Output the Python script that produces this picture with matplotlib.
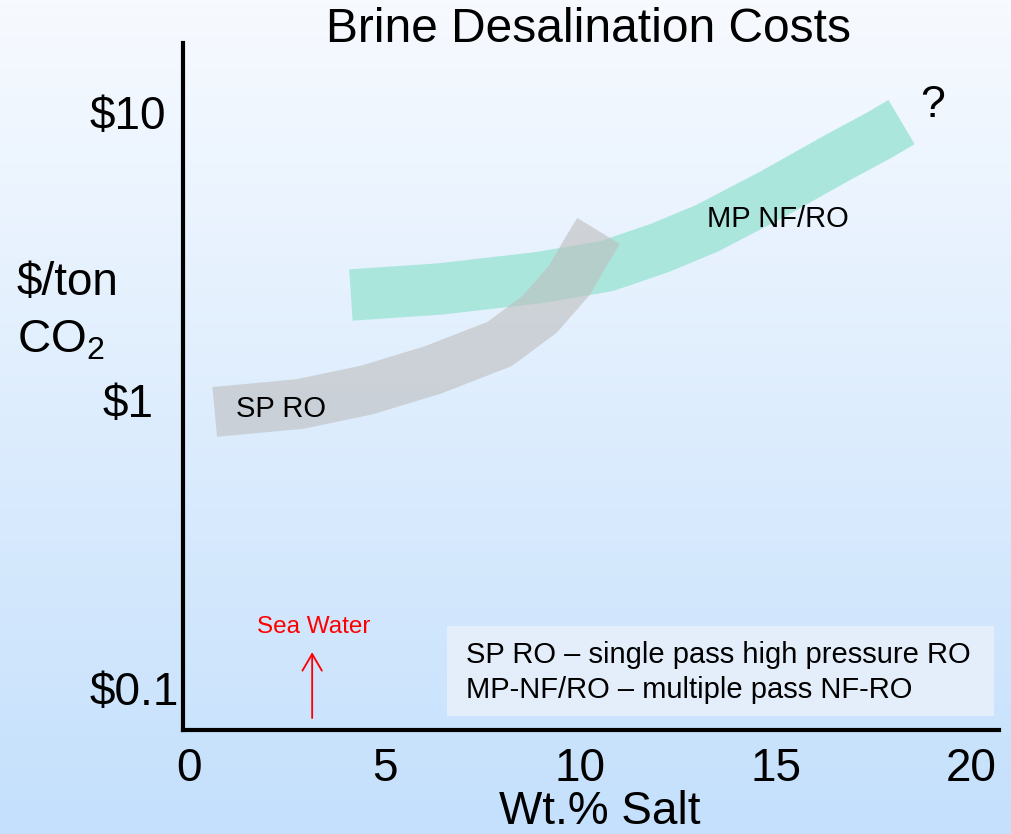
import numpy as np
import matplotlib
matplotlib.use("Agg")
import matplotlib.pyplot as plt
from matplotlib.patches import Rectangle

plt.rcParams["font.family"] = ["Liberation Sans", "DejaVu Sans"]
plt.rcParams["mathtext.fontset"] = "custom"
plt.rcParams["mathtext.rm"] = "Liberation Sans"

# cost bands, wt.% salt vs $/ton CO2
sp_salt = [0.66, 2.84, 4.55, 6.23, 7.94, 8.97, 9.73, 10.14, 10.47]
sp_cost = [0.946, 1.008, 1.127, 1.322, 1.627, 2.067, 2.713, 3.39, 4.01]
mp_salt = [4.14, 6.41, 8.97, 10.68, 12.03, 13.23, 14.92, 16.63, 17.65, 18.21]
mp_cost = [2.406, 2.524, 2.767, 3.032, 3.501, 4.091, 5.388, 7.271, 8.628, 9.57]

x_ticks = [0, 5, 10, 15, 20]
y_ticks = [10, 1, 0.1]
y_tick_labels = ["$10", "$1", "$0.1"]
sea_water_salt = 3.15

TEAL = "#a8e6dc"
GRAY = "#bebebe"

W, H = 1011, 834
fig = plt.figure(figsize=(W / 100, H / 100), dpi=100)

# background gradient
bg = fig.add_axes([0, 0, 1, 1], zorder=-1)
top = np.array([247, 250, 255]) / 255
bot = np.array([196, 224, 252]) / 255
t = np.linspace(0, 1, 256)[:, None]
grad = top[None, :] * (1 - t) + bot[None, :] * t
bg.imshow(grad[:, None, :], aspect="auto", extent=[0, 1, 0, 1])
bg.axis("off")

ax = fig.add_axes([183 / W, (H - 730) / H, (999 - 183) / W, (730 - 43) / H])
ax.set_facecolor("none")
ax.set_yscale("log")
ax.set_xlim(-0.15, 20.7)
ax.set_ylim(0.0747, 17.98)

ax.plot(mp_salt, mp_cost, color=TEAL, lw=37, solid_capstyle="butt",
        solid_joinstyle="round", alpha=0.95, zorder=2)
ax.plot(sp_salt, sp_cost, color=GRAY, lw=36, solid_capstyle="butt",
        solid_joinstyle="round", alpha=0.6, zorder=3)

ax.text(1.2, 0.97, "SP RO", ha="left", va="center", fontsize=21, zorder=4)
ax.text(13.23, 4.4, "MP NF/RO", ha="left", va="center", fontsize=21, zorder=4)
ax.text(19.0, 10.96, "?", ha="center", va="center", fontsize=32)

for s in ["top", "right"]:
    ax.spines[s].set_visible(False)
for s in ["left", "bottom"]:
    ax.spines[s].set_linewidth(3)
    ax.spines[s].set_color("black")

ax.set_xticks(x_ticks)
ax.set_xticklabels([str(v) for v in x_ticks])
ax.tick_params(axis="x", length=0, labelsize=33, pad=12)
ax.set_yticks([])
ax.yaxis.set_minor_locator(matplotlib.ticker.NullLocator())

# y labels placed as free text boxes
ytrans = matplotlib.transforms.blended_transform_factory(fig.transFigure, ax.transData)
for v, lab, px in zip(y_ticks, y_tick_labels, [90, 103, 90]):
    ax.text(px / W, v, lab, transform=ytrans, ha="left", va="center",
            fontsize=33)

fig.text(17 / W, 1 - 283 / H, "$/ton", ha="left", va="center", fontsize=33)
fig.text(17 / W, 1 - 340 / H, r"CO$_2$", ha="left", va="center", fontsize=33)
fig.text(600 / W, 1 - 812 / H, "Wt.% Salt", ha="center", va="center",
         fontsize=33)
fig.text(588 / W, 1 - 29 / H, "Brine Desalination Costs", ha="center",
         va="center", fontsize=34.5)

# sea water marker
ax.annotate("", xy=(sea_water_salt, 0.139), xytext=(sea_water_salt, 0.0822),
            arrowprops=dict(arrowstyle="->,head_length=0.6,head_width=0.35",
                            color="red", lw=1.3, mutation_scale=20,
                            shrinkA=0, shrinkB=0))
ax.text(sea_water_salt + 0.05, 0.170, "Sea Water", ha="center", va="center",
        color="red", fontsize=17.5)

# abbreviation key
ax.add_patch(Rectangle(((447 - 183) / 816, (730 - 716) / 687), (994 - 447) / 816,
                       90 / 687, transform=ax.transAxes, facecolor="#e4eefa",
                       edgecolor="none", zorder=1))
ax.text((466 - 183) / 816, (730 - 655) / 687,
        "SP RO \u2013 single pass high pressure RO", transform=ax.transAxes,
        ha="left", va="center", fontsize=21)
ax.text((466 - 183) / 816, (730 - 690) / 687,
        "MP-NF/RO \u2013 multiple pass NF-RO", transform=ax.transAxes,
        ha="left", va="center", fontsize=21)

fig.savefig("out.png", dpi=100)
